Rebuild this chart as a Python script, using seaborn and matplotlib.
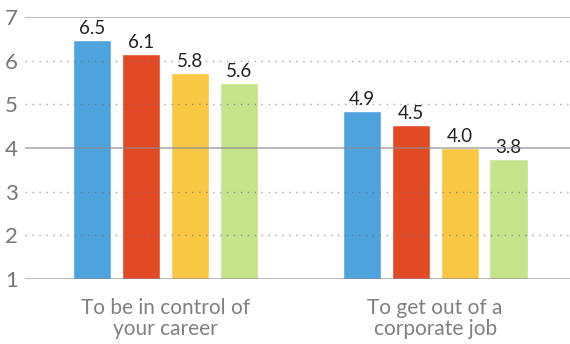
import matplotlib
matplotlib.use("Agg")
import matplotlib.pyplot as plt
import pandas as pd
import seaborn as sns

# data
categories = ["To be in control of\nyour career", "To get out of a\ncorporate job"]
series = ["Group A", "Group B", "Group C", "Group D"]
heights_career = [6.47, 6.15, 5.72, 5.49]
heights_corporate = [4.84, 4.52, 4.0, 3.75]
labels_career = ["6.5", "6.1", "5.8", "5.6"]
labels_corporate = ["4.9", "4.5", "4.0", "3.8"]
palette = ["#4FA3DC", "#E24A26", "#F8C845", "#C5E38A"]

df = pd.DataFrame({
    "category": [categories[0]] * 4 + [categories[1]] * 4,
    "series": series * 2,
    "value": heights_career + heights_corporate,
})

sns.set_theme(style="white")
plt.rcParams["font.family"] = ["Lato", "DejaVu Sans"]

fig = plt.figure(figsize=(5.7, 3.44), dpi=100)
ax = fig.add_axes([0.044, 0.189, 0.956, 0.762])

sns.barplot(data=df, x="category", y="value", hue="series", palette=palette,
            width=0.726, gap=0.22, saturation=1, legend=False, ax=ax, zorder=2)

for i, cont in enumerate(ax.containers):
    ax.bar_label(cont, labels=[labels_career[i], labels_corporate[i]],
                 padding=2, fontsize=13.5, color="#222222")

ax.set_ylim(1, 7)
ax.set_xlim(-0.52, 1.5)
for y in [1, 4, 7]:
    ax.axhline(y, color="#8a8a94", lw=1.4, alpha=0.6, zorder=3)
for y in [2, 3, 5, 6]:
    ax.axhline(y, color="#6a6a74", lw=1.0, ls=(0, (1, 4)), alpha=0.6, zorder=3)

ax.set_yticks(range(1, 8))
ax.tick_params(axis="y", length=0, pad=5, labelsize=16, labelcolor="#777777")
ax.tick_params(axis="x", length=0, pad=14, labelsize=15, labelcolor="#808080")
for t in ax.get_xticklabels():
    t.set_linespacing(1.05)
ax.set_xlabel("")
ax.set_ylabel("")
sns.despine(ax=ax, left=True, bottom=True)

fig.savefig("out.png", dpi=100)
